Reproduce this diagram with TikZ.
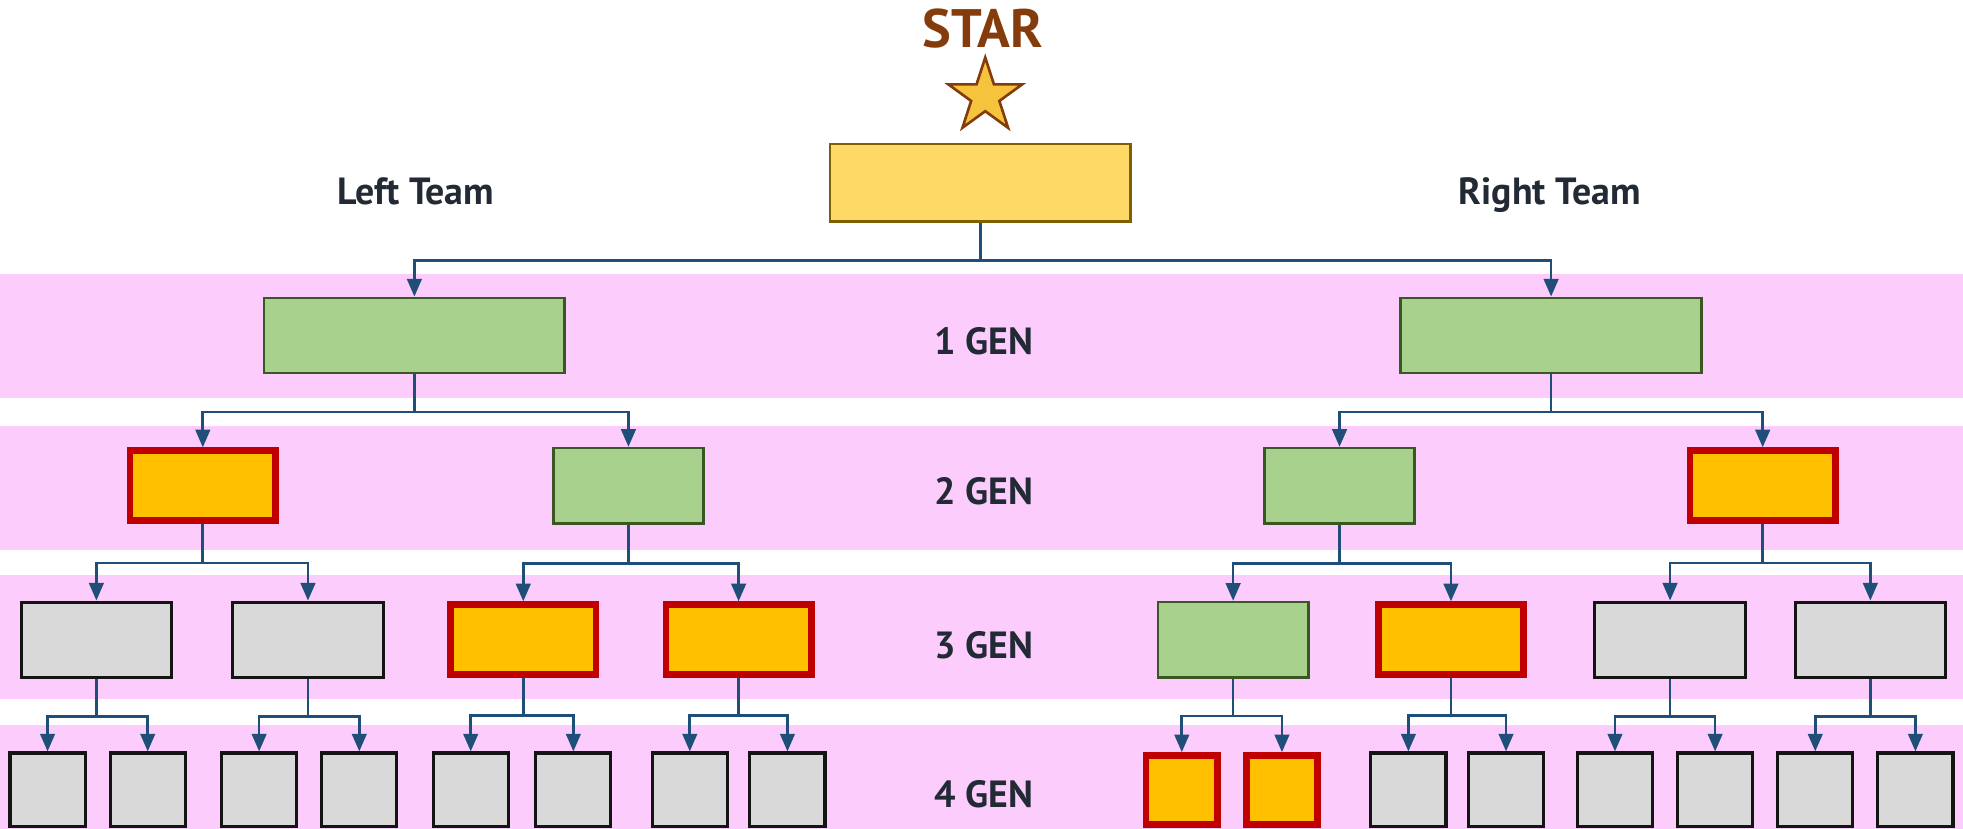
\documentclass[tikz,border=0pt]{standalone}
\usepackage{fontspec}
\setmainfont{PT Sans}
\usepackage{tikz}
\usetikzlibrary{arrows.meta}
\usetikzlibrary{shapes.geometric}
\usepackage{xcolor}
\definecolor{band-pink}{RGB}{252,204,252}
\definecolor{link-blue}{RGB}{31,78,121}
\definecolor{label-dark}{RGB}{34,42,53}
\definecolor{star-brown}{RGB}{132,60,12}
\definecolor{star-gold}{RGB}{245,196,60}
\definecolor{root-yellow}{RGB}{255,217,102}
\definecolor{root-edge}{RGB}{127,96,0}
\definecolor{green-fill}{RGB}{169,209,142}
\definecolor{green-edge}{RGB}{56,87,35}
\definecolor{gray-fill}{RGB}{217,217,217}
\definecolor{gray-edge}{RGB}{20,20,20}
\definecolor{hot-fill}{RGB}{255,192,0}
\definecolor{hot-edge}{RGB}{192,0,0}
\tikzstyle{pixels}=[x=0.01cm, y=-0.01cm]
\tikzstyle{band}=[fill=band-pink]
\tikzstyle{box}=[inner sep=0, line width=0.6pt, minimum width=1.2cm, minimum height=0.6cm]
\tikzstyle{wide}=[minimum width=2.4cm]
\tikzstyle{small}=[minimum width=0.6cm, minimum height=0.59cm]
\tikzstyle{active}=[box, draw=green-edge, fill=green-fill]
\tikzstyle{idle}=[box, draw=gray-edge, fill=gray-fill, line width=0.7pt]
\tikzstyle{hot}=[box, draw=hot-edge, fill=hot-fill, line width=1.5pt, minimum width=1.16cm, minimum height=0.56cm]
\tikzstyle{hotsmall}=[minimum width=0.57cm, minimum height=0.55cm]
\tikzstyle{genlabel}=[text=label-dark, text depth=0pt, font=\fontsize{8.6}{10}\selectfont\bfseries]
\tikzstyle{link}=[draw=link-blue, line width=0.6pt, -{Triangle[length=4pt,width=3.3pt]}]

\begin{document}
\begin{tikzpicture}[pixels]
	\useasboundingbox (0,0) rectangle (1568,662);
	\fill[band] (0,219) rectangle (1568,318);
	\fill[band] (0,340) rectangle (1568,439);
	\fill[band] (0,459) rectangle (1568,558);
	\fill[band] (0,579) rectangle (1568,662);
	\node[text=star-brown, font=\fontsize{12.3}{14}\selectfont\bfseries] (title) at (785,23) {STAR};
	\node[star, star points=5, star point ratio=2.618, minimum size=0.62cm, inner sep=0, draw=star-brown, fill=star-gold, line width=0.6pt] (starmark) at (787,77) {};
	\node[box, wide, minimum height=0.62cm, draw=root-edge, fill=root-yellow] (root) at (783,146) {};
	\node[genlabel] (left) at (332,153) {Left Team};
	\node[genlabel] (right) at (1238,153) {Right Team};
	\node[genlabel] (gen1) at (786,272) {1 GEN};
	\node[genlabel] (gen2) at (786,392) {2 GEN};
	\node[genlabel] (gen3) at (786,515) {3 GEN};
	\node[genlabel] (gen4) at (786,634) {4 GEN};
	\node[active, wide] (a1) at (331,268) {};
	\node[active, wide] (a2) at (1239,268) {};
	\node[hot] (b1) at (162,388) {};
	\node[active] (b2) at (502,388) {};
	\node[active] (b3) at (1070,388) {};
	\node[hot] (b4) at (1408,388) {};
	\node[idle] (c1) at (77,511) {};
	\node[idle] (c2) at (246,511) {};
	\node[hot] (c3) at (418,511) {};
	\node[hot] (c4) at (590,511) {};
	\node[active] (c5) at (985,511) {};
	\node[hot] (c6) at (1159,511) {};
	\node[idle] (c7) at (1334,511) {};
	\node[idle] (c8) at (1494,511) {};
	\node[idle, small] (d1) at (38,631) {};
	\node[idle, small] (d2) at (118,631) {};
	\node[idle, small] (d3) at (207,631) {};
	\node[idle, small] (d4) at (287,631) {};
	\node[idle, small] (d5) at (376,631) {};
	\node[idle, small] (d6) at (458,631) {};
	\node[idle, small] (d7) at (551,631) {};
	\node[idle, small] (d8) at (629,631) {};
	\node[hot, hotsmall] (d9) at (944,631) {};
	\node[hot, hotsmall] (d10) at (1024,631) {};
	\node[idle, small] (d11) at (1125,631) {};
	\node[idle, small] (d12) at (1203,631) {};
	\node[idle, small] (d13) at (1290,631) {};
	\node[idle, small] (d14) at (1370,631) {};
	\node[idle, small] (d15) at (1450,631) {};
	\node[idle, small] (d16) at (1530,631) {};
	\draw[link] (root.south) -- ++(0,30) -| (a1.north);
	\draw[link] (root.south) -- ++(0,30) -| (a2.north);
	\draw[link] (a1.south) -- ++(0,30) -| (b1.north);
	\draw[link] (a1.south) -- ++(0,30) -| (b2.north);
	\draw[link] (a2.south) -- ++(0,30) -| (b3.north);
	\draw[link] (a2.south) -- ++(0,30) -| (b4.north);
	\draw[link] (b1.south) -- ++(0,31) -| (c1.north);
	\draw[link] (b1.south) -- ++(0,31) -| (c2.north);
	\draw[link] (b2.south) -- ++(0,31) -| (c3.north);
	\draw[link] (b2.south) -- ++(0,31) -| (c4.north);
	\draw[link] (b3.south) -- ++(0,31) -| (c5.north);
	\draw[link] (b3.south) -- ++(0,31) -| (c6.north);
	\draw[link] (b4.south) -- ++(0,31) -| (c7.north);
	\draw[link] (b4.south) -- ++(0,31) -| (c8.north);
	\draw[link] (c1.south) -- ++(0,30) -| (d1.north);
	\draw[link] (c1.south) -- ++(0,30) -| (d2.north);
	\draw[link] (c2.south) -- ++(0,30) -| (d3.north);
	\draw[link] (c2.south) -- ++(0,30) -| (d4.north);
	\draw[link] (c3.south) -- ++(0,30) -| (d5.north);
	\draw[link] (c3.south) -- ++(0,30) -| (d6.north);
	\draw[link] (c4.south) -- ++(0,30) -| (d7.north);
	\draw[link] (c4.south) -- ++(0,30) -| (d8.north);
	\draw[link] (c5.south) -- ++(0,30) -| (d9.north);
	\draw[link] (c5.south) -- ++(0,30) -| (d10.north);
	\draw[link] (c6.south) -- ++(0,30) -| (d11.north);
	\draw[link] (c6.south) -- ++(0,30) -| (d12.north);
	\draw[link] (c7.south) -- ++(0,30) -| (d13.north);
	\draw[link] (c7.south) -- ++(0,30) -| (d14.north);
	\draw[link] (c8.south) -- ++(0,30) -| (d15.north);
	\draw[link] (c8.south) -- ++(0,30) -| (d16.north);
\end{tikzpicture}
\end{document}
